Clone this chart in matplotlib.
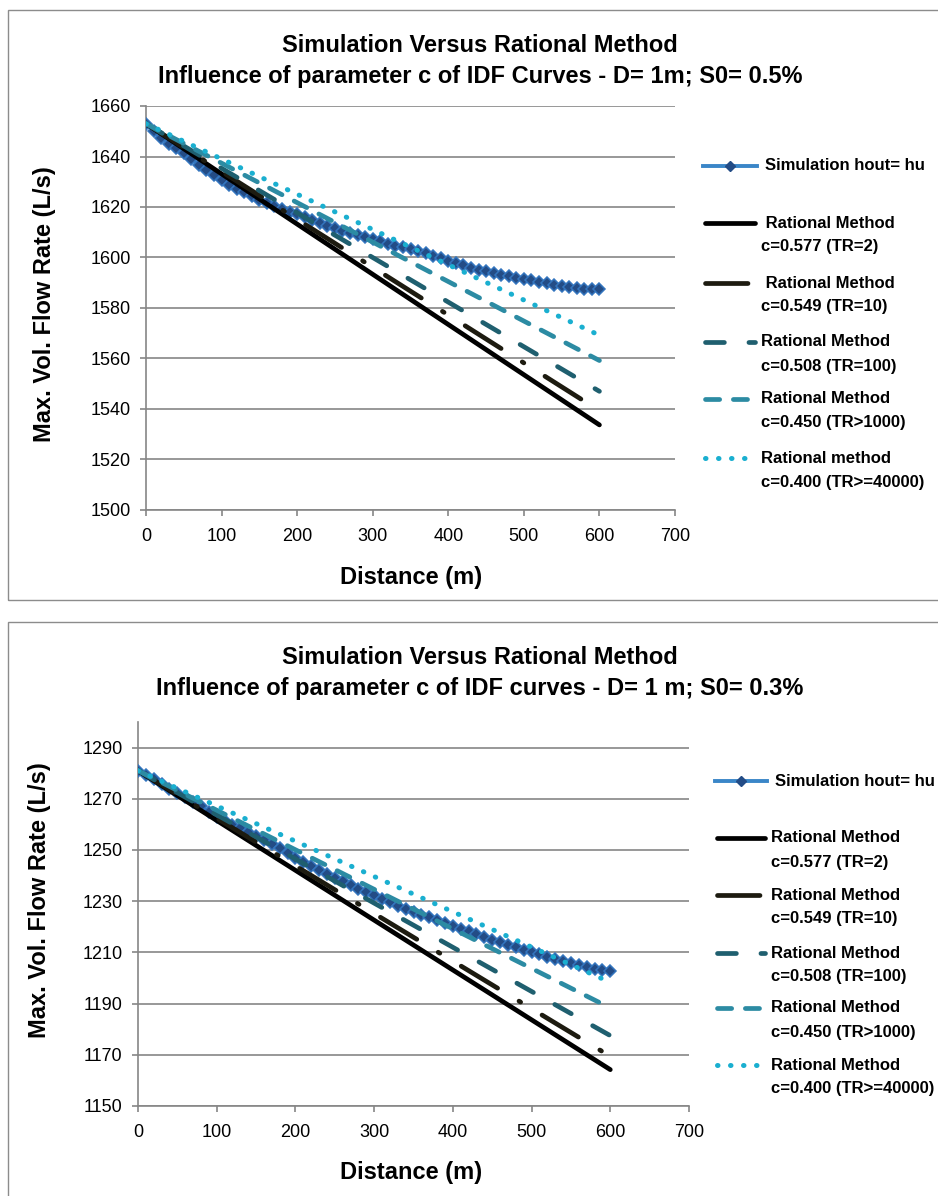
import matplotlib
matplotlib.use("Agg")
import matplotlib.pyplot as plt
from matplotlib.lines import Line2D
from matplotlib.patches import Rectangle

# ---------------- data ----------------
distance_sim = list(range(0, 601, 10))

sim_top = [1653.0, 1650.0, 1647.2, 1645.0, 1643.3, 1641.5, 1639.0, 1636.7, 1634.6, 1632.6,
           1630.6, 1628.8, 1627.2, 1625.8, 1624.3, 1622.8, 1621.4, 1620.2, 1619.1, 1618.2,
           1617.3, 1616.2, 1615.0, 1613.8, 1612.6, 1611.5, 1610.5, 1609.7, 1609.0, 1608.3,
           1607.5, 1606.5, 1605.5, 1604.7, 1604.0, 1603.3, 1602.5, 1601.6, 1600.7, 1599.7,
           1598.8, 1597.8, 1597.0, 1596.0, 1595.2, 1594.5, 1593.8, 1593.1, 1592.5, 1592.0,
           1591.4, 1590.9, 1590.3, 1589.8, 1589.3, 1588.8, 1588.3, 1587.9, 1587.7, 1587.5,
           1587.4]

sim_bot = [1281.0, 1279.4, 1277.6, 1275.8, 1274.0, 1272.3, 1270.6, 1268.9, 1267.0, 1264.8,
           1263.0, 1261.4, 1259.9, 1258.4, 1256.9, 1255.4, 1253.8, 1252.2, 1250.6, 1248.8,
           1247.0, 1245.4, 1243.8, 1242.2, 1240.7, 1239.2, 1237.7, 1236.2, 1234.9, 1233.6,
           1232.3, 1231.0, 1229.6, 1228.3, 1227.1, 1225.9, 1224.8, 1223.7, 1222.6, 1221.5,
           1220.4, 1219.3, 1218.2, 1217.1, 1216.0, 1215.0, 1214.0, 1213.0, 1212.1, 1211.1,
           1210.2, 1209.2, 1208.3, 1207.4, 1206.5, 1205.7, 1205.0, 1204.3, 1203.7, 1203.2,
           1202.8]

distance_rational = [0, 600]
rational_top_start = 1653.0
rational_top_end = [1533.7, 1539.3, 1547.0, 1559.2, 1569.2]
rational_bot_start = 1281.0
rational_bot_end = [1164.2, 1169.4, 1177.5, 1188.3, 1198.3]

sim_label = "Simulation hout= hu"
labels_top = [" Rational Method\nc=0.577 (TR=2)",
              " Rational Method\nc=0.549 (TR=10)",
              "Rational Method\nc=0.508 (TR=100)",
              "Rational Method\nc=0.450 (TR>1000)",
              "Rational method\nc=0.400 (TR>=40000)"]
labels_bot = ["Rational Method\nc=0.577 (TR=2)",
              "Rational Method\nc=0.549 (TR=10)",
              "Rational Method\nc=0.508 (TR=100)",
              "Rational Method\nc=0.450 (TR>1000)",
              "Rational Method\nc=0.400 (TR>=40000)"]

title_top = ["Simulation Versus Rational Method",
             "Influence of parameter c of IDF Curves - D= 1m; S0= 0.5%"]
title_bot = ["Simulation Versus Rational Method",
             "Influence of parameter c of IDF curves - D= 1 m; S0= 0.3%"]

xticks = [0, 100, 200, 300, 400, 500, 600, 700]
yticks_top = [1500, 1520, 1540, 1560, 1580, 1600, 1620, 1640, 1660]
yticks_bot = [1150, 1170, 1190, 1210, 1230, 1250, 1270, 1290]

# ---------------- style ----------------
plt.rcParams["font.family"] = ["Liberation Sans", "DejaVu Sans"]

W, H, DPI = 938, 1196, 100
GRAY = "#868686"
SIM_LINE = "#3A86C8"
SIM_MARK = "#234C86"
LEG_FS = 12
TICK_FS = 13

styles = [
    dict(color="#000000", lw=3.4, ls="-"),
    dict(color="#1D1B10", lw=3.4, ls=(0, (9.0, 5.3, 0.4, 5.3))),
    dict(color="#1F5F6F", lw=3.4, ls=(0, (4.0, 5.2))),
    dict(color="#2C8BA3", lw=3.4, ls=(0, (3.0, 2.9))),
    dict(color="#1AAFD0", lw=3.6, ls=(0, (0.1, 2.5))),
]

fig = plt.figure(figsize=(W / DPI, H / DPI), dpi=DPI)


def fx(px):
    return px / W


def fy(py):
    return 1 - py / H


# panel borders
for (y0, y1) in [(10, 600), (622, 1210)]:
    fig.patches.append(Rectangle((fx(8), fy(y1)), fx(960) - fx(8), fy(y0) - fy(y1),
                                 transform=fig.transFigure, fill=False,
                                 edgecolor="#8C8C8C", lw=1.0))


def make_panel(box, sim_vals, r_start, r_end, labels, titles, yticks, ylim,
               title_y, ylab_coords, xlab_coords, leg):
    l, r, t, b = box
    ax = fig.add_axes([fx(l), fy(b), fx(r) - fx(l), fy(t) - fy(b)])
    ax.plot(distance_sim, sim_vals, color=SIM_LINE, lw=2.8, marker="D", ms=6.5,
            mfc=SIM_MARK, mec="#3375BE", mew=1.1, zorder=3)
    for i, st in enumerate(styles):
        ax.plot(distance_rational, [r_start, r_end[i]], color=st["color"], lw=st["lw"],
                ls=st["ls"], dash_capstyle="round", solid_capstyle="round", zorder=4 + i)
    ax.set_xlim(0, 700)
    ax.set_ylim(*ylim)
    ax.set_xticks(xticks)
    ax.set_yticks(yticks)
    ax.grid(axis="y", color=GRAY, lw=1.2)
    ax.set_axisbelow(True)
    for s in ["top", "right"]:
        ax.spines[s].set_visible(False)
    for s in ["left", "bottom"]:
        ax.spines[s].set_color(GRAY)
        ax.spines[s].set_linewidth(1.2)
    ax.tick_params(axis="both", colors=GRAY, length=4, width=1.2, labelcolor="#000000",
                   labelsize=TICK_FS)
    ax.tick_params(axis="x", pad=9)
    ax.tick_params(axis="y", pad=7)
    ax.set_ylabel("Max. Vol. Flow Rate (L/s)", fontsize=17, fontweight="bold")
    ax.set_xlabel("Distance (m)", fontsize=17, fontweight="bold")
    ax.yaxis.set_label_coords(*ylab_coords)
    ax.xaxis.set_label_coords(*xlab_coords)
    ax.yaxis.label.set_va("center")
    ax.xaxis.label.set_va("center")
    # titles
    for k, tt in enumerate(titles):
        fig.text(fx(480), fy(title_y[k]), tt, ha="center", va="center",
                 fontsize=17, fontweight="bold")
    # legend (manual so handles align with first text line)
    hx0, hx1, tx, ys, dy = leg
    y = ys[0]
    fig.add_artist(Line2D([fx(hx0), fx(hx1)], [fy(y), fy(y)], transform=fig.transFigure,
                          color=SIM_LINE, lw=2.8))
    fig.add_artist(Line2D([fx((hx0 + hx1) / 2)], [fy(y)], transform=fig.transFigure,
                          marker="D", ms=5.5, mfc=SIM_MARK, mec=SIM_MARK, ls="none"))
    fig.text(fx(tx + 4), fy(y), sim_label, ha="left", va="center", fontsize=LEG_FS,
             fontweight="bold")
    for i, st in enumerate(styles):
        y = ys[i + 1]
        fig.add_artist(Line2D([fx(hx0 + 2), fx(hx1 - 2)], [fy(y), fy(y)],
                              transform=fig.transFigure, color=st["color"], lw=st["lw"],
                              ls=st["ls"], dash_capstyle="round", solid_capstyle="round"))
        lines = labels[i].split("\n")
        fig.text(fx(tx), fy(y), lines[0], ha="left", va="center", fontsize=LEG_FS,
                 fontweight="bold")
        fig.text(fx(tx), fy(y + dy), lines[1], ha="left", va="center", fontsize=LEG_FS,
                 fontweight="bold")
    return ax


make_panel((146, 675, 106, 510), sim_top, rational_top_start, rational_top_end,
           labels_top, title_top, yticks_top, (1500, 1660), (45, 77),
           (-0.191, 0.51), (0.501, -0.168),
           (703, 757, 761, [166, 223, 283, 342, 399, 458], 24))

make_panel((138, 689, 722, 1106), sim_bot, rational_bot_start, rational_bot_end,
           labels_bot, title_bot, yticks_bot, (1150, 1300), (657, 689),
           (-0.178, 0.536), (0.495, -0.172),
           (715, 767, 771, [781, 838, 895, 953, 1008, 1065], 24))

fig.savefig("out.png", dpi=DPI)
